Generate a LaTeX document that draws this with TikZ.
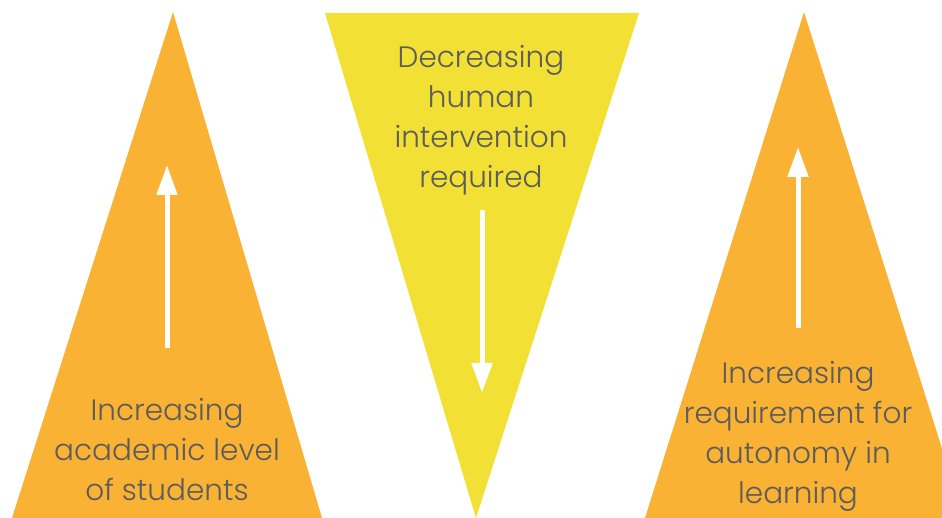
\documentclass[tikz,border=0pt]{standalone}
\usepackage{fontspec}
\setmainfont{Poppins}[UprightFont=* Light]
\usetikzlibrary{arrows.meta}

\begin{document}
\begin{tikzpicture}[x = 1pt, y = -1pt,
  label text/.style = {align = center, text = textGray,
    font = \fontsize{29.5}{40}\selectfont},
  up arrow/.style = {draw = white, line width = 5pt,
    -{Triangle[width = 20pt, length = 30pt]}}]
  \definecolor{warmOrange}{HTML}{F9B233}
  \definecolor{lemon}{HTML}{F2E035}
  \definecolor{textGray}{HTML}{5C5C5C}

  \useasboundingbox (0, 0) rectangle (942, 518);
  \clip (0, 0) rectangle (942, 518);

  % left triangle
  \coordinate (A1) at (173, 12);
  \coordinate (B1) at (322, 518);
  \coordinate (C1) at (12, 518);
  \fill[warmOrange] (A1) -- (B1) -- (C1) -- cycle;

  % middle triangle, upside down
  \coordinate (A2) at (325, 13);
  \coordinate (B2) at (639, 13);
  \coordinate (C2) at (476, 518);
  \fill[lemon] (A2) -- (B2) -- (C2) -- cycle;

  % right triangle
  \coordinate (A3) at (804, 12);
  \coordinate (B3) at (964, 518);
  \coordinate (C3) at (645, 518);
  \fill[warmOrange] (A3) -- (B3) -- (C3) -- cycle;

  \coordinate (S1) at (167, 348);
  \coordinate (E1) at (167, 165);
  \draw[up arrow] (S1) -- (E1);

  \coordinate (S2) at (482, 210);
  \coordinate (E2) at (482, 393);
  \draw[up arrow] (S2) -- (E2);

  \coordinate (S3) at (798, 328);
  \coordinate (E3) at (798, 147);
  \draw[up arrow] (S3) -- (E3);

  \node[label text] (academic) at (167, 450)
    {Increasing\\academic level\\of students};
  \node[label text] (human) at (481, 120)
    {Decreasing\\human\\intervention\\required};
  \node[label text] (autonomy) at (798, 436)
    {Increasing\\requirement for\\autonomy in\\learning};
\end{tikzpicture}
\end{document}
